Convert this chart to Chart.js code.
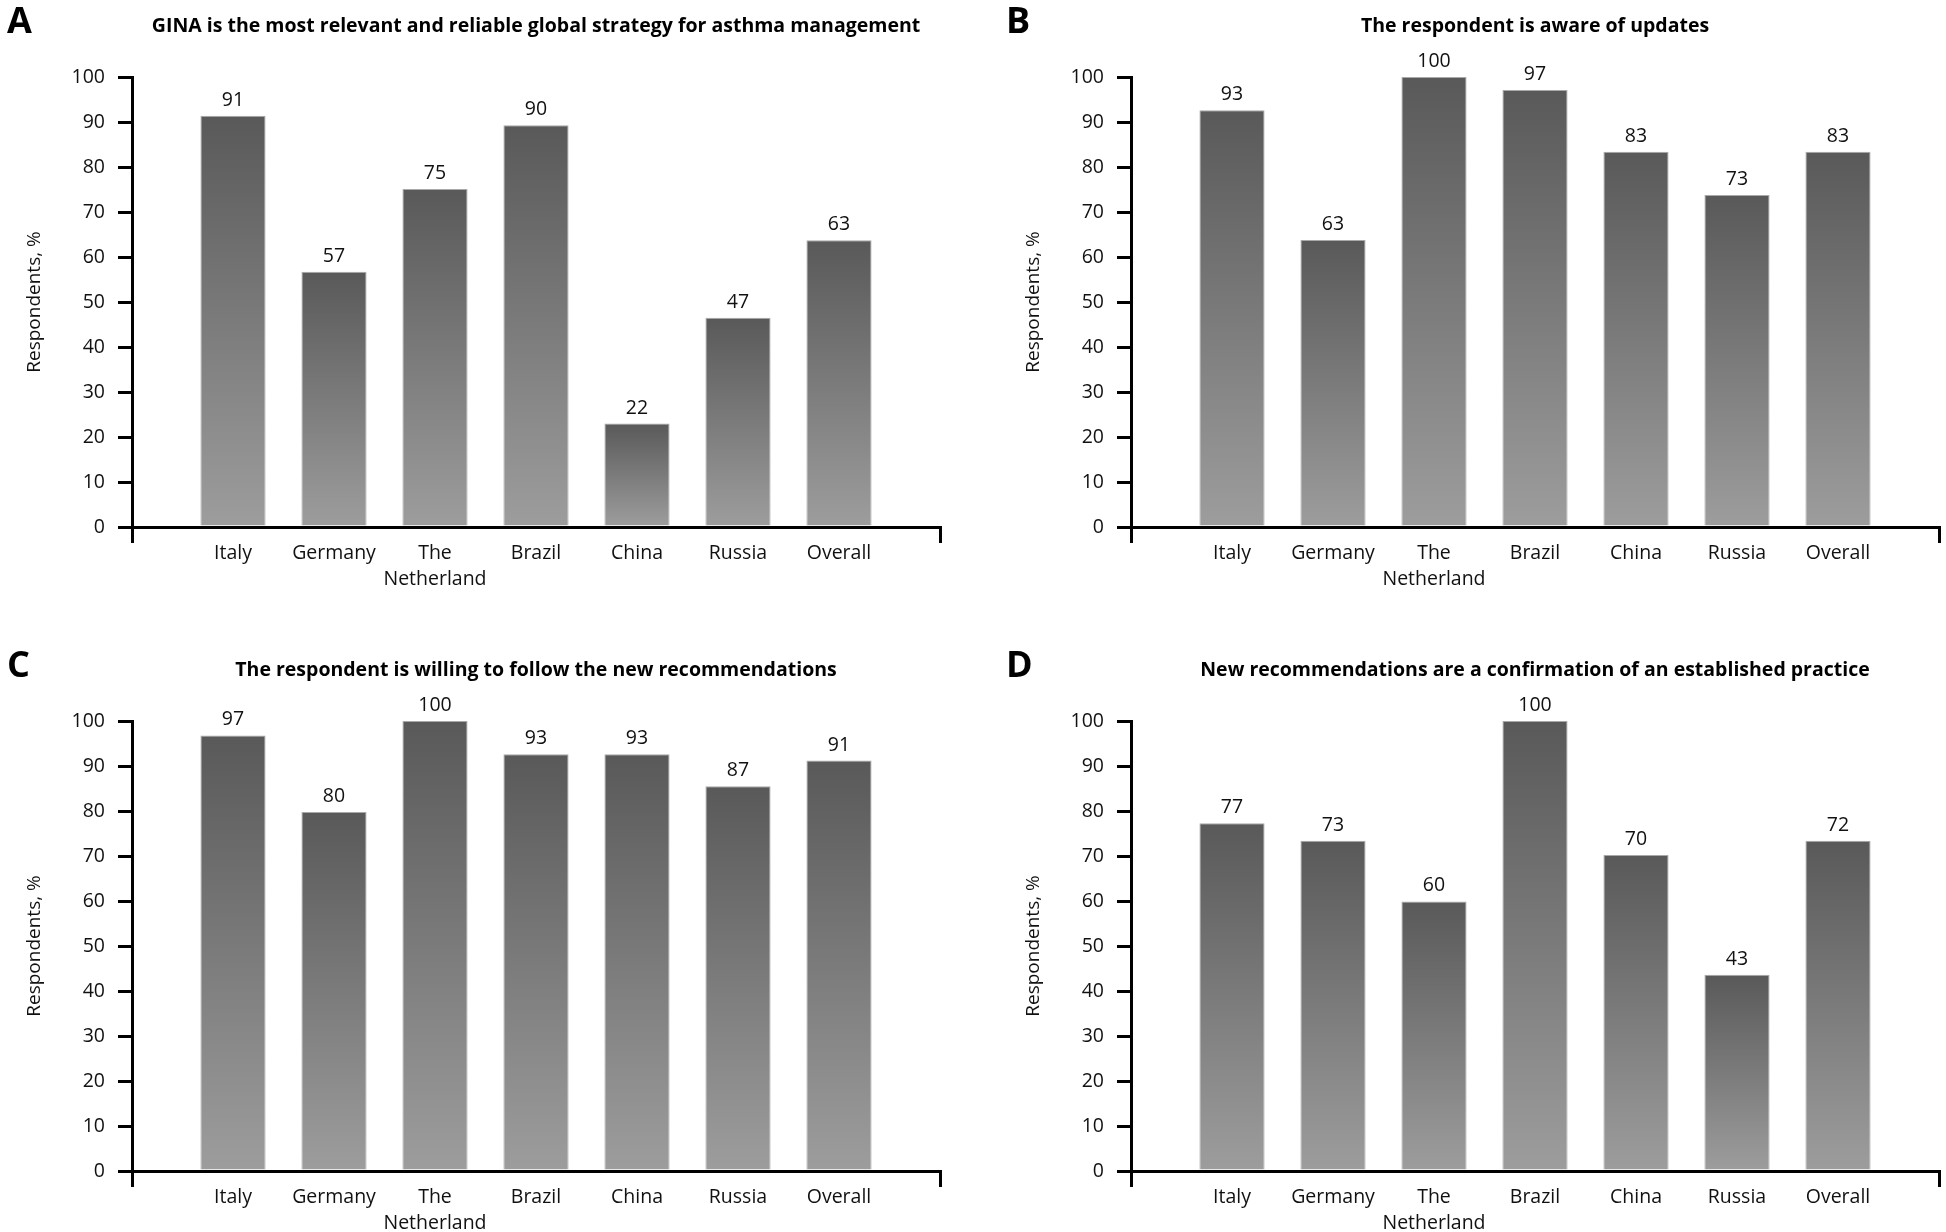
<!DOCTYPE html>
<html>
<head>
<meta charset="utf-8">
<title>GINA survey</title>
<script src="https://cdn.jsdelivr.net/npm/chart.js@4.4.0/dist/chart.umd.min.js"></script>
<style>
  html, body { margin: 0; padding: 0; background: #fff; overflow: hidden; }
  body { width: 1946px; height: 1232px; position: relative; }
  canvas { position: absolute; }
</style>
</head>
<body>
<canvas id="chartA" width="999" height="644" style="left:0px;top:0px"></canvas>
<canvas id="chartB" width="999" height="644" style="left:999px;top:0px"></canvas>
<canvas id="chartC" width="999" height="644" style="left:0px;top:644px"></canvas>
<canvas id="chartD" width="999" height="644" style="left:999px;top:644px"></canvas>
<script>
// empty slots at both ends so the axis runs one step past the first and last bar
const categories = ['', 'Italy', 'Germany', ['The', 'Netherland'], 'Brazil', 'China', 'Russia', 'Overall', ''];
const yMin = 0;
const yMax = 100;
const yStep = 10;

const titleA = 'GINA is the most relevant and reliable global strategy for asthma management';
const valuesA = [91.4, 56.7, 75.1, 89.3, 23.0, 46.5, 63.7];
const labelsA = [91, 57, 75, 90, 22, 47, 63];

const titleB = 'The respondent is aware of updates';
const valuesB = [92.6, 63.8, 100, 97.1, 83.4, 73.8, 83.4];
const labelsB = [93, 63, 100, 97, 83, 73, 83];

const titleC = 'The respondent is willing to follow the new recommendations';
const valuesC = [96.8, 79.8, 100, 92.6, 92.6, 85.5, 91.2];
const labelsC = [97, 80, 100, 93, 93, 87, 91];

const titleD = 'New recommendations are a confirmation of an established practice';
const valuesD = [77.3, 73.4, 59.9, 100, 70.2, 43.6, 73.4];
const labelsD = [77, 73, 60, 100, 70, 43, 72];

Chart.defaults.font.family = '"Open Sans", "Noto Sans", sans-serif';
Chart.defaults.color = '#111';

function barGradient(context) {
  const chart = context.chart;
  const yScale = chart.scales.y;
  const v = context.raw;
  if (!chart.chartArea || !yScale || v == null) return '#7a7a7a';
  const top = yScale.getPixelForValue(v);
  const bottom = yScale.getPixelForValue(0);
  const g = chart.ctx.createLinearGradient(0, top, 0, bottom);
  g.addColorStop(0, '#595959');
  g.addColorStop(1, '#9d9d9d');
  return g;
}

// numbers printed above each bar
const valueLabels = {
  id: 'valueLabels',
  afterDatasetsDraw(chart) {
    const ctx = chart.ctx;
    const ds = chart.data.datasets[0];
    const meta = chart.getDatasetMeta(0);
    ctx.save();
    ctx.font = '19.5px "Open Sans"';
    ctx.fillStyle = '#111';
    ctx.textAlign = 'center';
    ctx.textBaseline = 'alphabetic';
    meta.data.forEach((bar, i) => {
      const txt = ds.printed[i];
      if (txt == null) return;
      ctx.fillText(String(txt), bar.x, bar.y - 10);
    });
    ctx.restore();
  }
};

function panelText(letter, title) {
  return {
    id: 'panelText',
    afterDraw(chart) {
      const { ctx, chartArea } = chart;
      ctx.save();
      ctx.fillStyle = '#000';
      ctx.textBaseline = 'alphabetic';
      ctx.font = 'bold 36px "Open Sans"';
      ctx.textAlign = 'left';
      ctx.fillText(letter, 7, 33);
      ctx.font = 'bold 19.5px "Open Sans"';
      ctx.textAlign = 'center';
      ctx.fillText(title, (chartArea.left + chartArea.right) / 2, 32);
      ctx.restore();
    }
  };
}

function makeChart(id, letter, title, values, printed) {
  const ctx = document.getElementById(id).getContext('2d');
  return new Chart(ctx, {
    type: 'bar',
    data: {
      labels: categories,
      datasets: [{
        data: [null, ...values, null],
        printed: [null, ...printed, null],
        backgroundColor: barGradient,
        borderColor: '#a9a9a9',
        borderWidth: 1,
        categoryPercentage: 1,
        barPercentage: 0.645
      }]
    },
    options: {
      responsive: false,
      animation: false,
      layout: { padding: { left: 0, right: 59, top: 77, bottom: 0 } },
      plugins: {
        legend: { display: false },
        tooltip: { enabled: false }
      },
      scales: {
        x: {
          offset: false,
          grid: {
            offset: false,
            drawOnChartArea: false,
            drawTicks: true,
            tickLength: 16,
            lineWidth: 3,
            // only the two end ticks are drawn
            color: (c) => (c.index === 0 || c.index === categories.length - 1) ? '#000' : 'rgba(0,0,0,0)'
          },
          border: { display: true, color: '#000', width: 3 },
          ticks: {
            autoSkip: false,
            maxRotation: 0,
            minRotation: 0,
            padding: -3,
            color: '#111',
            font: { size: 19.5, lineHeight: 1.35 }
          },
          afterFit: (scale) => { scale.height = 117; }
        },
        y: {
          min: yMin,
          max: yMax,
          grid: {
            drawOnChartArea: false,
            drawTicks: true,
            tickLength: 14,
            lineWidth: 3,
            color: '#000'
          },
          border: { display: true, color: '#000', width: 3 },
          ticks: {
            stepSize: yStep,
            padding: 13,
            color: '#111',
            font: { size: 19.5 }
          },
          title: {
            display: true,
            text: 'Respondents, %',
            color: '#111',
            font: { size: 19 },
            padding: { top: 23, bottom: 0 }
          },
          afterFit: (scale) => { scale.width = 132; }
        }
      }
    },
    plugins: [valueLabels, panelText(letter, title)]
  });
}

makeChart('chartA', 'A', titleA, valuesA, labelsA);
makeChart('chartB', 'B', titleB, valuesB, labelsB);
makeChart('chartC', 'C', titleC, valuesC, labelsC);
makeChart('chartD', 'D', titleD, valuesD, labelsD);
</script>
</body>
</html>
